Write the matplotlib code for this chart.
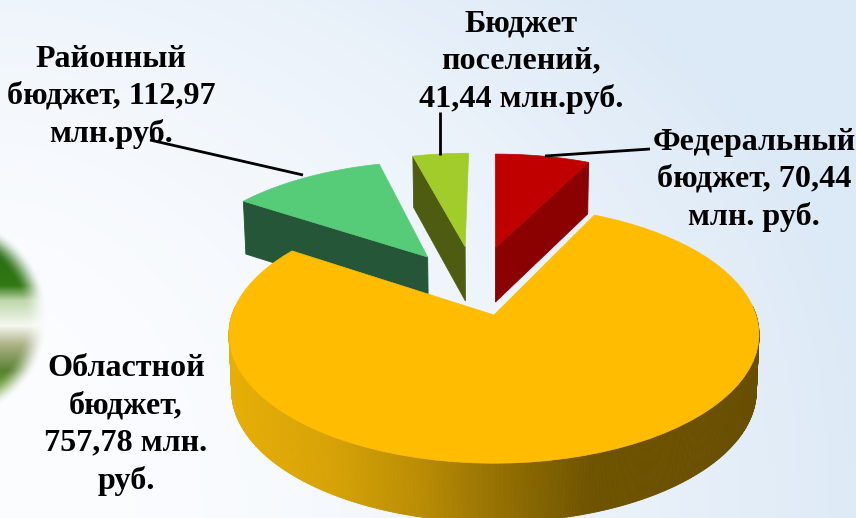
import matplotlib
matplotlib.use("Agg")
import matplotlib.pyplot as plt
import numpy as np

labels = ["Федеральный\nбюджет, 70,44\nмлн. руб.", "Областной\nбюджет,\n757,78 млн.\nруб.",
          "Районный\nбюджет, 112,97\nмлн.руб.", "Бюджет\nпоселений,\n41,44 млн.руб."]
values = [70.44, 757.78, 112.97, 41.44]
top_colors = ["#C00000", "#FFBC00", "#57CC78", "#A2CC29"]
side_colors = ["#8B0000", "#C89400", "#245637", "#4D5C11"]
offsets = [(0.006, 0.58), (0.0, 0.0), (-0.272, 0.494), (-0.12, 0.59)]
label_pos = [(754, 180), (126, 425), (111, 97), (521, 62)]
leaders = [[(650, 149), (545, 156)], [(150, 140), (303, 175)], [(440, 112), (440, 155)]]

CX, CY, RX, RY, K = 494, 315, 262, 126, 0.15


def project(x, y, low=False):
    w = 1 / (1 + K * y)
    sx = RX * x * w
    sy = -RY * y * w
    if low:
        sx = sx * 0.99
        sy = sy + 56 - 3 * y
    return CX + sx, CY + sy


def slice_points(a0, a1, off, n=80):
    t = np.radians(np.linspace(a0, a1, n))
    return off[0] + np.cos(t), off[1] + np.sin(t)


def quad(ax, x0, y0, x1, y1, color):
    xa, ya = project(np.array([x0, x1]), np.array([y0, y1]))
    xb, yb = project(np.array([x1, x0]), np.array([y1, y0]), low=True)
    ax.fill(np.r_[xa, xb], np.r_[ya, yb], color=color, lw=0.6)


def background(w, h):
    yy, xx = np.mgrid[0:h, 0:w]
    t = 0.95 * (xx / w) ** 1.6 + 0.42 * (1 - yy / h) ** 2.5
    t = np.clip(t, 0.02, 1)
    light = np.array([252, 253, 255.0])
    blue = np.array([220, 233, 246.0])
    base = light + t[..., None] * (blue - light)
    # blurred green picture at the left edge
    stops_y = [225, 250, 285, 300, 325, 345, 370, 400, 420]
    stops_c = np.array([[90, 150, 60], [40, 110, 20], [50, 120, 20], [190, 215, 170], [245, 248, 240],
                        [170, 175, 130], [90, 130, 50], [120, 185, 60], [170, 215, 120]], float)
    band = np.stack([np.interp(yy, stops_y, stops_c[:, i]) for i in range(3)], axis=-1)
    dist = np.hypot(xx + 55, yy - 318)
    a = np.clip((91 - dist) / 24 + 0.5, 0, 1)
    a = a * a * (3 - 2 * a)
    img = base * (1 - a[..., None]) + band * a[..., None]
    return img / 255


fig = plt.figure(figsize=(8.56, 5.18), dpi=100)
ax = fig.add_axes([0, 0, 1, 1])
ax.imshow(background(856, 518), extent=(0, 856, 518, 0), aspect="auto", zorder=0)
ax.set_xlim(0, 856)
ax.set_ylim(518, 0)
ax.axis("off")

# angles, clockwise from the top
angles = 90 - np.cumsum([0] + values) / sum(values) * 360
# which end of the arc has its flat wall showing
visible_end = {0: -1, 2: 0, 3: 0}
order = [2, 3, 0, 1]

for i in order:
    a0, a1 = angles[i], angles[i + 1]
    off = offsets[i]
    xs, ys = slice_points(a0, a1, off)
    if i == 1:
        # outer wall of the big slice, shaded left to right
        t = np.radians(np.linspace(176, 364, 400))
        px, py = np.cos(t), np.sin(t)
        for j in range(len(t) - 1):
            sx = project(px[j], py[j])[0]
            col = np.interp(sx, [232, 330, 420, 500, 590, 760], [0, 0.12, 0.35, 0.65, 0.95, 1])
            c = (1 - col) * np.array([0xE6, 0xAE, 0x06]) + col * np.array([0x68, 0x4E, 0x00])
            quad(ax, px[j], py[j], px[j + 1], py[j + 1], c / 255)
    else:
        k = visible_end[i]
        quad(ax, off[0], off[1], xs[k], ys[k], side_colors[i])
    px, py = project(np.r_[off[0], xs], np.r_[off[1], ys])
    ax.fill(px, py, color=top_colors[i], lw=0.5)

for line in leaders:
    ax.plot([p[0] for p in line], [p[1] for p in line], color="black", lw=2.0, solid_capstyle="butt")

for text, (x, y) in zip(labels, label_pos):
    ax.text(x, y, text, ha="center", va="center", family="Liberation Serif", fontweight="bold",
            fontsize=23.1, linespacing=1.36, color="black")

fig.savefig("out.png", dpi=100)
